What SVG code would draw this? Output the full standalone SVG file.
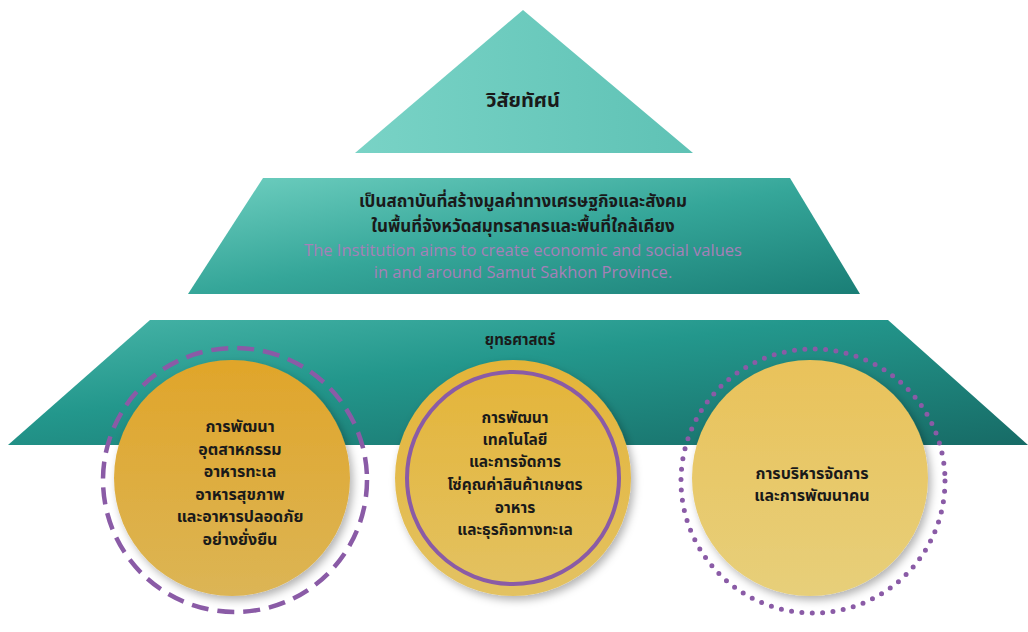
<svg xmlns="http://www.w3.org/2000/svg" width="1028" height="632" viewBox="0 0 1028 632">
<style>
.th{font-family:"Noto Sans Thai","Noto Sans","DejaVu Sans",sans-serif;font-weight:bold;fill:#1a1a1a;text-anchor:middle}
.en{font-family:"Open Sans","Liberation Sans",sans-serif;fill:#a680b8;text-anchor:middle;font-size:16.5px}
</style>
<defs>
<linearGradient id="gTop" x1="0" y1="0" x2="1" y2="0"><stop offset="0" stop-color="#79d3c6"/><stop offset="1" stop-color="#5fc2b5"/></linearGradient>
<linearGradient id="gMid" x1="0" y1="0" x2="1" y2="1"><stop offset="0" stop-color="#6fcfc0"/><stop offset="0.5" stop-color="#35a699"/><stop offset="1" stop-color="#1a7e76"/></linearGradient>
<linearGradient id="gBot" x1="0" y1="0" x2="1" y2="1"><stop offset="0" stop-color="#48b5a8"/><stop offset="0.4" stop-color="#23978c"/><stop offset="1" stop-color="#176b66"/></linearGradient>
<linearGradient id="gC1" x1="0" y1="0" x2="0" y2="1"><stop offset="0" stop-color="#e0a52a"/><stop offset="1" stop-color="#dcb555"/></linearGradient>
<linearGradient id="gC2" x1="0" y1="0" x2="0" y2="1"><stop offset="0" stop-color="#e4b438"/><stop offset="1" stop-color="#e3c262"/></linearGradient>
<linearGradient id="gC3" x1="0" y1="0" x2="0" y2="1"><stop offset="0" stop-color="#e9c25a"/><stop offset="1" stop-color="#e7cf7a"/></linearGradient>
<filter id="sh" x="-20%" y="-20%" width="140%" height="140%"><feDropShadow dx="3" dy="4" stdDeviation="4" flood-color="#000" flood-opacity="0.3"/></filter>
</defs>
<rect width="1028" height="632" fill="#ffffff"/>
<g id="vision">
<polygon points="523,10 693,153 355,153" fill="url(#gTop)"/>
<text class="th" x="523" y="107" font-size="20">วิสัยทัศน์</text>
</g>
<g id="mission">
<polygon points="263,178 790,178 860,294 188,294" fill="url(#gMid)"/>
<text class="th" x="523" y="207" font-size="17">เป็นสถาบันที่สร้างมูลค่าทางเศรษฐกิจและสังคม</text>
<text class="th" x="523" y="232" font-size="17">ในพื้นที่จังหวัดสมุทรสาครและพื้นที่ใกล้เคียง</text>
<text class="en" x="523" y="256">The Institution aims to create economic and social values</text>
<text class="en" x="523" y="278">in and around Samut Sakhon Province.</text>
</g>
<g id="strategy">
<polygon points="150,320 888,320 1028,445 8,445" fill="url(#gBot)"/>
<text class="th" x="520" y="345" font-size="15">ยุทธศาสตร์</text>
</g>
<g id="s1">
<circle cx="232" cy="478" r="118" fill="url(#gC1)" filter="url(#sh)"/>
<circle cx="235" cy="480" r="132" fill="none" stroke="#8a5ba6" stroke-width="4.5" stroke-dasharray="17,9"/>
<text class="th" font-size="16"><tspan x="240" y="432">การพัฒนา</tspan><tspan x="240" y="454.5">อุตสาหกรรม</tspan><tspan x="240" y="477">อาหารทะเล</tspan><tspan x="240" y="499.5">อาหารสุขภาพ</tspan><tspan x="240" y="522">และอาหารปลอดภัย</tspan><tspan x="240" y="544.5">อย่างยั่งยืน</tspan></text>
</g>
<g id="s2">
<circle cx="513" cy="478" r="118" fill="url(#gC2)" filter="url(#sh)"/>
<circle cx="513" cy="478" r="106" fill="none" stroke="#8a5ba6" stroke-width="4"/>
<text class="th" font-size="15.5"><tspan x="515" y="423">การพัฒนา</tspan><tspan x="515" y="445">เทคโนโลยี</tspan><tspan x="515" y="467">และการจัดการ</tspan><tspan x="515" y="490">โซ่คุณค่าสินค้าเกษตร</tspan><tspan x="515" y="513">อาหาร</tspan><tspan x="515" y="535">และธุรกิจทางทะเล</tspan></text>
</g>
<g id="s3">
<circle cx="810" cy="478" r="118" fill="url(#gC3)" filter="url(#sh)"/>
<circle cx="813" cy="481" r="132" fill="none" stroke="#8a5ba6" stroke-width="5" stroke-linecap="round" stroke-dasharray="0,10.4"/>
<text class="th" font-size="16"><tspan x="812" y="479">การบริหารจัดการ</tspan><tspan x="812" y="501">และการพัฒนาคน</tspan></text>
</g>
</svg>
